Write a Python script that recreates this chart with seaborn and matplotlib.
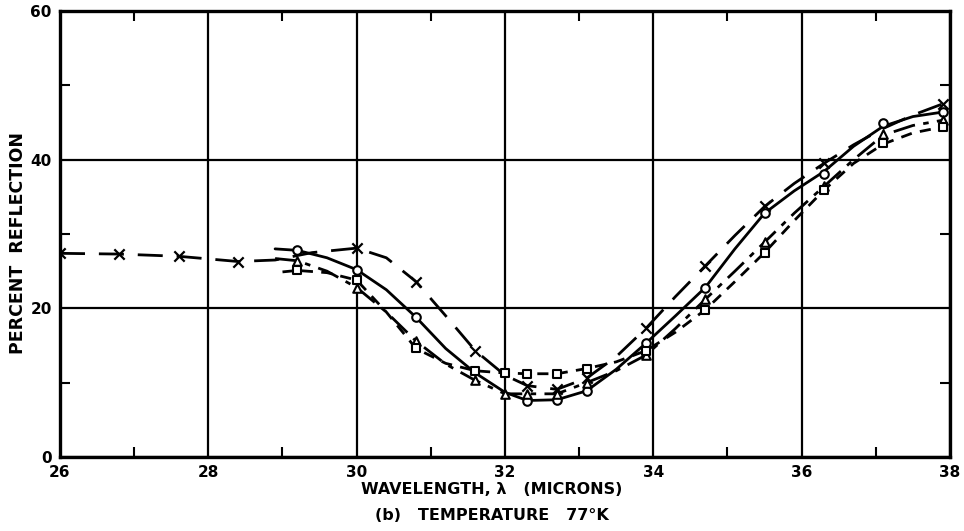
import matplotlib
matplotlib.use("Agg")
import matplotlib.pyplot as plt
import seaborn as sns
import pandas as pd

# ---- data ----
# X series (long dashes)
x_curve_wl = [26.0, 26.8, 27.6, 28.4, 28.9, 29.4, 30.0, 30.4, 30.8, 31.2, 31.6, 32.0, 32.3, 32.7, 33.1, 33.5, 33.9, 34.3, 34.7, 35.1, 35.5, 35.9, 36.3, 36.7, 37.1, 37.5, 37.9]
x_curve_r = [27.4, 27.3, 27.0, 26.3, 26.5, 27.5, 28.1, 26.8, 23.6, 19.0, 14.3, 11.0, 9.6, 9.1, 10.6, 13.5, 17.3, 21.6, 25.7, 29.8, 33.7, 36.8, 39.5, 42.0, 44.2, 46.0, 47.5]
x_mark_wl = [26.0, 26.8, 27.6, 28.4, 30.0, 30.8, 31.6, 32.3, 32.7, 33.1, 33.9, 34.7, 35.5, 36.3, 37.9]
x_mark_r = [27.4, 27.3, 27.0, 26.3, 28.1, 23.6, 14.3, 9.6, 9.1, 10.6, 17.3, 25.7, 33.7, 39.5, 47.5]

# circle series (solid)
o_curve_wl = [28.9, 29.2, 29.6, 30.0, 30.4, 30.8, 31.2, 31.6, 32.0, 32.3, 32.7, 33.1, 33.5, 33.9, 34.3, 34.7, 35.1, 35.5, 35.9, 36.3, 36.7, 37.1, 37.5, 37.9]
o_curve_r = [28.0, 27.8, 26.8, 25.2, 22.5, 18.8, 14.6, 11.3, 8.7, 7.6, 7.7, 8.9, 11.8, 15.3, 19.0, 22.8, 28.0, 32.8, 35.8, 38.4, 41.8, 44.5, 45.8, 46.4]
o_mark_wl = [29.2, 30.0, 30.8, 32.3, 32.7, 33.1, 33.9, 34.7, 35.5, 36.3, 37.1, 37.9]
o_mark_r = [27.8, 25.2, 18.8, 7.6, 7.7, 8.9, 15.3, 22.8, 32.8, 38.1, 45.0, 46.4]

# triangle series (dash-dot)
t_curve_wl = [28.9, 29.2, 29.6, 30.0, 30.4, 30.8, 31.2, 31.6, 32.0, 32.3, 32.7, 33.1, 33.5, 33.9, 34.3, 34.7, 35.1, 35.5, 35.9, 36.3, 36.7, 37.1, 37.5, 37.9]
t_curve_r = [26.7, 26.4, 25.0, 22.8, 19.5, 15.6, 12.5, 10.3, 8.5, 8.5, 8.5, 10.0, 11.6, 13.7, 17.3, 21.2, 25.0, 28.9, 32.8, 36.4, 40.0, 43.3, 44.6, 45.3]
t_mark_wl = [29.2, 30.0, 30.8, 31.6, 32.0, 32.3, 32.7, 33.1, 33.9, 34.7, 35.5, 36.3, 37.1, 37.9]
t_mark_r = [26.4, 22.8, 15.6, 10.3, 8.5, 8.5, 8.5, 10.0, 13.7, 21.2, 28.9, 36.4, 43.5, 45.3]

# square series (short dashes)
s_curve_wl = [29.0, 29.2, 29.6, 30.0, 30.4, 30.8, 31.2, 31.6, 32.0, 32.3, 32.7, 33.1, 33.5, 33.9, 34.3, 34.7, 35.1, 35.5, 35.9, 36.3, 36.7, 37.1, 37.5, 37.9]
s_curve_r = [24.9, 25.1, 24.8, 23.8, 19.5, 14.6, 12.6, 11.6, 11.3, 11.2, 11.2, 11.9, 12.8, 14.3, 16.8, 19.8, 23.6, 27.5, 31.8, 35.9, 39.5, 42.1, 43.6, 44.4]
s_mark_wl = [29.2, 30.0, 30.8, 31.6, 32.0, 32.3, 32.7, 33.1, 33.9, 34.7, 35.5, 36.3, 37.1, 37.9]
s_mark_r = [25.1, 23.8, 14.6, 11.6, 11.3, 11.2, 11.2, 11.9, 14.3, 19.8, 27.5, 35.9, 42.3, 44.4]

x_ticks = [26, 28, 30, 32, 34, 36, 38]
y_ticks = [0, 20, 40, 60]
x_minor = [27, 29, 31, 33, 35, 37]
y_minor = [10, 30, 50]

sns.set_style("white")
plt.rcParams['font.family'] = ['DejaVu Sans']
plt.rcParams['font.weight'] = 'bold'
plt.rcParams['text.color'] = 'black'
plt.rcParams['xtick.color'] = 'black'
plt.rcParams['ytick.color'] = 'black'
plt.rcParams['axes.labelcolor'] = 'black'

fig = plt.figure(figsize=(9.64, 5.31), dpi=100)
ax = fig.add_axes([60/964, 1-457/531, 890/964, 446/531])

series = [
    (x_curve_wl, x_curve_r, x_mark_wl, x_mark_r, (0, (9, 5)), 'x'),
    (o_curve_wl, o_curve_r, o_mark_wl, o_mark_r, '-', 'o'),
    (t_curve_wl, t_curve_r, t_mark_wl, t_mark_r, (0, (8, 3, 2, 3)), '^'),
    (s_curve_wl, s_curve_r, s_mark_wl, s_mark_r, (0, (4, 3)), 's'),
]
for cw, cr, mw, mr, ls, mk in series:
    df = pd.DataFrame({"wl": cw, "r": cr})
    sns.lineplot(data=df, x="wl", y="r", ax=ax, sort=False, estimator=None,
                 color="black", linewidth=2.0, linestyle=ls, zorder=3)
    dm = pd.DataFrame({"wl": mw, "r": mr})
    if mk == 'x':
        sns.scatterplot(data=dm, x="wl", y="r", ax=ax, marker='x', color="black",
                        s=55, linewidth=1.6, zorder=5)
    else:
        sns.scatterplot(data=dm, x="wl", y="r", ax=ax, marker=mk, facecolor="white",
                        edgecolor="black", s=38, linewidth=1.5, zorder=5)

ax.set_xlim(26, 38)
ax.set_ylim(0, 60)
ax.set_xticks(x_ticks)
ax.set_yticks(y_ticks)
ax.set_xticks(x_minor, minor=True)
ax.set_yticks(y_minor, minor=True)
ax.set_xticklabels([str(t) for t in x_ticks], fontsize=11, fontweight='bold', color='black')
ax.set_yticklabels([str(t) for t in y_ticks], fontsize=11, fontweight='bold', color='black')
ax.tick_params(axis='both', which='major', length=0, pad=6)
ax.tick_params(axis='both', which='minor', direction='in', length=7, width=1.5,
               top=True, right=True, bottom=True, left=True, color='black')
ax.grid(True, which='major', color='black', linewidth=1.6)
for sp in ax.spines.values():
    sp.set_visible(True)
    sp.set_color('black')
    sp.set_linewidth(2.4)
ax.set_xlabel("")
ax.set_ylabel("")

fig.text(492/964, 1-490/531, "WAVELENGTH, \u03bb   (MICRONS)", ha='center', va='center',
         fontsize=11.5, fontweight='bold', color='black')
fig.text(492/964, 1-515/531, "(b)   TEMPERATURE   77\u00b0K", ha='center', va='center',
         fontsize=11.5, fontweight='bold', color='black')
fig.text(18/964, 1-243/531, "PERCENT  REFLECTION", ha='center', va='center',
         rotation=90, fontsize=12.5, fontweight='bold', color='black')

fig.savefig("out.png", dpi=100)
